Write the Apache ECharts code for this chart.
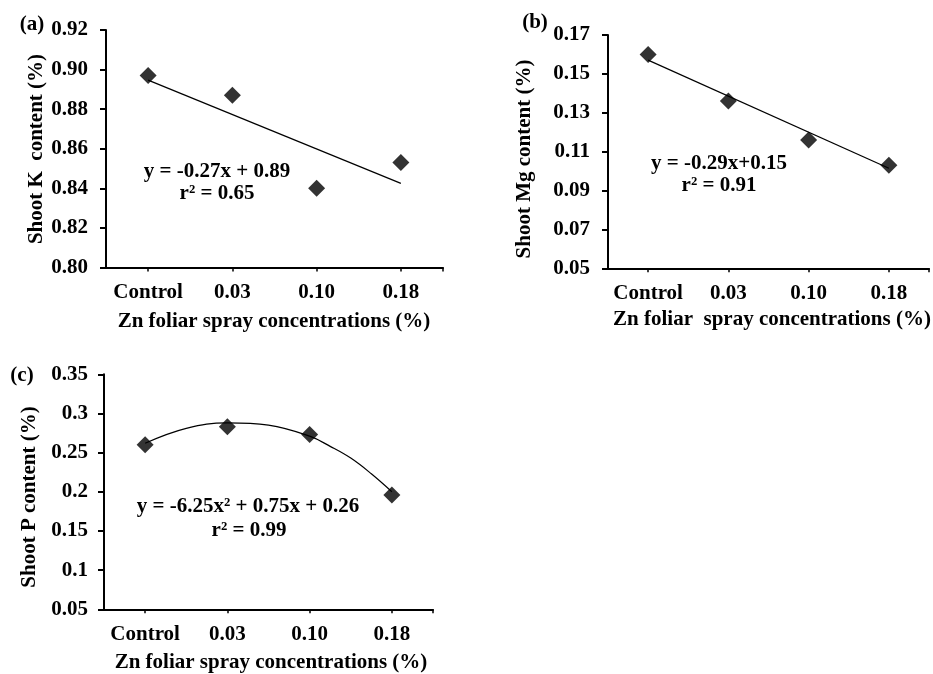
<!DOCTYPE html>
<html>
<head>
<meta charset="utf-8">
<script src="https://cdn.jsdelivr.net/npm/echarts@6/dist/echarts.min.js"></script>
<style>
html,body{margin:0;padding:0;background:#fff;}
#chart{width:933px;height:674px;}
</style>
</head>
<body>
<div id="chart"></div>
<script>
// ---- data ----
const categories = ['Control', '0.03', '0.10', '0.18'];
const catPos = [1, 2, 3, 4];

const kValues = [0.897, 0.887, 0.840, 0.853];
const kTrendX = [1, 4];
const kTrend = [0.8947, 0.8425];

const mgValues = [0.160, 0.136, 0.116, 0.103];
const mgTrendX = [1, 4];
const mgTrend = [0.1571, 0.1015];

const pValues = [0.260, 0.283, 0.273, 0.196];
const pTrendX = [1, 1.5, 2, 2.5, 3, 3.25, 3.5, 3.75, 4];
const pTrend = [0.262, 0.281, 0.288, 0.285, 0.271, 0.258, 0.243, 0.223, 0.200];

const kAxis = [0.80, 0.92, 0.02];
const mgAxis = [0.05, 0.17, 0.02];
const pAxis = [0.05, 0.35, 0.05];

const panelLabels = ['(a)', '(b)', '(c)'];
const yTitles = ['Shoot K  content (%)', 'Shoot Mg content (%)', 'Shoot P content (%)'];
const xTitles = ['Zn foliar spray concentrations (%)', 'Zn foliar  spray concentrations (%)', 'Zn foliar spray concentrations (%)'];
const equations = [
  ['y = -0.27x + 0.89', 'r\u00b2 = 0.65'],
  ['y = -0.29x+0.15', 'r\u00b2 = 0.91'],
  ['y = -6.25x\u00b2 + 0.75x + 0.26', 'r\u00b2 = 0.99']
];

// ---- styling / layout ----
const FONT = 'Liberation Serif';
const FS = 21;
const black = '#000';

const grids = [
  {left: 106, top: 30, width: 337, height: 237.5},
  {left: 608, top: 35, width: 321, height: 233.3},
  {left: 104, top: 374.3, width: 329, height: 235}
];

function pair(xs, ys) { return xs.map((x, i) => [x, ys[i]]); }

function xAxisDef(i) {
  return {
    type: 'value', gridIndex: i, min: 0.5, max: 4.5,
    splitLine: {show: false},
    axisLine: {show: true, onZero: false, lineStyle: {color: black, width: 2}},
    axisTick: {show: true, length: 4, lineStyle: {color: black, width: 1.5}, customValues: [1, 2, 3, 4, 4.5]},
    axisLabel: {
      show: true, customValues: catPos, margin: 15,
      fontFamily: FONT, fontWeight: 'bold', fontSize: FS, color: black,
      formatter: v => categories[Math.round(v) - 1]
    }
  };
}

function yAxisDef(i, ax, dec, margin) {
  return {
    type: 'value', gridIndex: i, min: ax[0], max: ax[1], interval: ax[2],
    splitLine: {show: false},
    axisLine: {show: true, lineStyle: {color: black, width: 2}},
    axisTick: {show: true, length: 6, lineStyle: {color: black, width: 2}},
    axisLabel: {
      margin: margin, fontFamily: FONT, fontWeight: 'bold', fontSize: FS, color: black,
      formatter: v => dec ? v.toFixed(dec) : String(parseFloat(v.toFixed(4)))
    }
  };
}

function scatter(i, ys) {
  return {
    type: 'scatter', xAxisIndex: i, yAxisIndex: i,
    data: pair(catPos, ys), symbol: 'diamond', symbolSize: 17,
    itemStyle: {color: black}, z: 5, silent: true
  };
}
function trend(i, xs, ys, smooth) {
  return {
    type: 'line', xAxisIndex: i, yAxisIndex: i,
    data: pair(xs, ys), smooth: smooth, showSymbol: false, symbol: 'none',
    lineStyle: {color: black, width: 1.2}, z: 3, silent: true
  };
}

function txt(x, y, text, rot) {
  return {
    type: 'text', x: x, y: y, rotation: rot || 0,
    style: {text: text, fontFamily: FONT, fontWeight: 'bold', fontSize: FS, fill: black,
            align: 'center', verticalAlign: 'middle'}
  };
}

const graphics = [
  txt(32, 25, panelLabels[0]),
  txt(535, 23, panelLabels[1]),
  txt(22, 376, panelLabels[2]),
  txt(37, 149, yTitles[0], Math.PI / 2),
  txt(525, 159, yTitles[1], Math.PI / 2),
  txt(30, 497, yTitles[2], Math.PI / 2),
  txt(274, 322, xTitles[0]),
  txt(772, 320, xTitles[1]),
  txt(271, 663, xTitles[2]),
  txt(217, 172, equations[0][0]),
  txt(217, 194, equations[0][1]),
  txt(719, 164, equations[1][0]),
  txt(719, 186, equations[1][1]),
  txt(248, 507, equations[2][0]),
  txt(249, 531, equations[2][1])
];

const chart = echarts.init(document.getElementById('chart'), null, {renderer: 'canvas'});
chart.setOption({
  backgroundColor: '#fff',
  animation: false,
  grid: grids,
  xAxis: [xAxisDef(0), xAxisDef(1), xAxisDef(2)],
  yAxis: [yAxisDef(0, kAxis, 2, 18), yAxisDef(1, mgAxis, 2, 18), yAxisDef(2, pAxis, 0, 16)],
  series: [
    trend(0, kTrendX, kTrend, false), scatter(0, kValues),
    trend(1, mgTrendX, mgTrend, false), scatter(1, mgValues),
    trend(2, pTrendX, pTrend, 0.4), scatter(2, pValues)
  ],
  graphic: graphics
});
</script>
</body>
</html>
